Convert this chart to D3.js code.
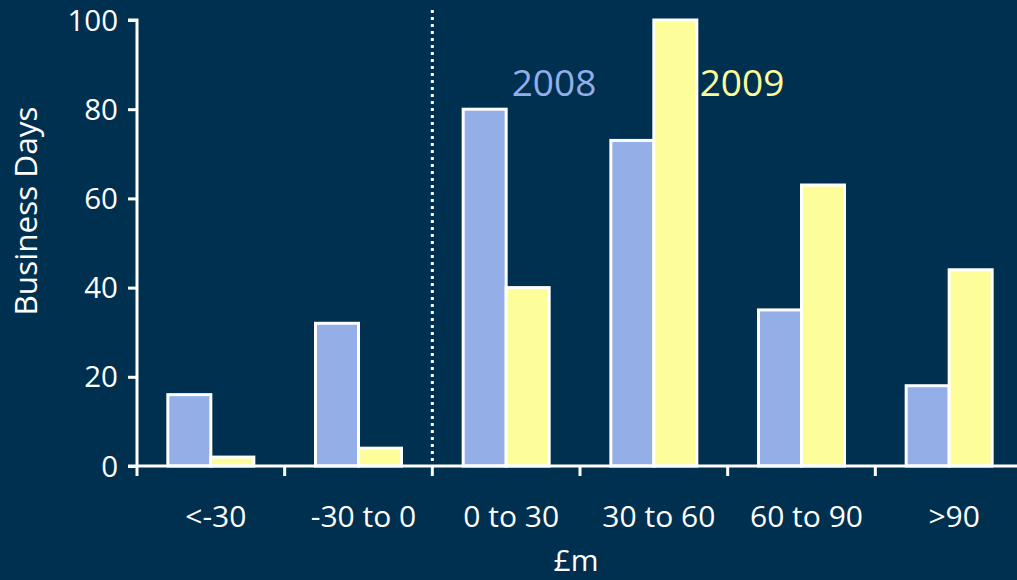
<!DOCTYPE html>
<html>
<head>
<meta charset="utf-8">
<script src="https://cdn.jsdelivr.net/npm/d3@7"></script>
<style>
  html, body { margin: 0; padding: 0; background: #00304f; }
  svg { display: block; }
  text { font-family: "Open Sans", sans-serif; }
</style>
</head>
<body>
<svg id="chart" width="1017" height="580"></svg>
<script>
// Ranges of the daily figure (£m) and the number of business days in each
const categories = ["<-30", "-30 to 0", "0 to 30", "30 to 60", "60 to 90", ">90"];
const seriesNames = ["2008", "2009"];
const values2008 = [16, 32, 80, 73, 35, 18];
const values2009 = [2, 4, 40, 100, 63, 44];
const yTicks = [0, 20, 40, 60, 80, 100];

const colors = { "2008": "#94aee8", "2009": "#fdfd99" };
const bg = "#00304f";

const svg = d3.select("#chart");
svg.append("rect").attr("width", 1017).attr("height", 580).attr("fill", bg);

const x0 = 137, x1 = 1023, y0 = 466, y1 = 20;

const x = d3.scaleBand().domain(categories).range([x0, x1]).paddingInner(0).paddingOuter(0);
const xs = d3.scaleBand().domain(seriesNames).range([0, 86]);
const y = d3.scaleLinear().domain([0, 100]).range([y0, y1]);

const rows = categories.map((c, i) => ({ cat: c, "2008": values2008[i], "2009": values2009[i] }));

// bars
const groups = svg.append("g").selectAll("g").data(rows).join("g")
  .attr("transform", d => `translate(${x(d.cat) + x.bandwidth() / 2 - 43},0)`);
groups.selectAll("rect")
  .data(d => seriesNames.map(s => ({ s, v: d[s] })))
  .join("rect")
  .attr("x", d => xs(d.s))
  .attr("width", xs.bandwidth())
  .attr("y", d => y(d.v))
  .attr("height", d => y0 - y(d.v))
  .attr("fill", d => colors[d.s])
  .attr("stroke", "#ffffff")
  .attr("stroke-width", 3);

// dotted divider between negative and positive ranges
svg.append("line")
  .attr("x1", x("0 to 30")).attr("x2", x("0 to 30"))
  .attr("y1", 10).attr("y2", y0)
  .attr("stroke", "#ffffff").attr("stroke-width", 3)
  .attr("stroke-dasharray", "3,4");

// y axis
const yAxis = svg.append("g").attr("transform", `translate(${x0},0)`)
  .call(d3.axisLeft(y).tickValues(yTicks).tickSize(9).tickPadding(10));
yAxis.select(".domain").attr("stroke", "#fff").attr("stroke-width", 3)
  .attr("d", `M-9,${y1}H0V${y0}`);
yAxis.selectAll(".tick line").attr("stroke", "#fff").attr("stroke-width", 3);
yAxis.selectAll(".tick text").attr("fill", "#fff").attr("font-size", 29.5)
  .attr("font-family", "'Open Sans', sans-serif").attr("dy", "0.34em");

// x axis: ticks at band boundaries
const boundaries = categories.map(c => x(c)).concat([x1]);
const xg = svg.append("g");
xg.append("line").attr("x1", x0 - 9).attr("x2", x1).attr("y1", y0).attr("y2", y0)
  .attr("stroke", "#fff").attr("stroke-width", 3);
xg.selectAll("line.tk").data(boundaries).join("line").attr("class", "tk")
  .attr("x1", d => d).attr("x2", d => d).attr("y1", y0).attr("y2", y0 + 10)
  .attr("stroke", "#fff").attr("stroke-width", 3);
xg.selectAll("text").data(categories).join("text")
  .attr("x", d => x(d) + x.bandwidth() / 2 + 5)
  .attr("y", 527)
  .attr("text-anchor", "middle")
  .attr("fill", "#fff").attr("font-size", 30)
  .text(d => d);

// axis titles
svg.append("text").attr("x", 576).attr("y", 571).attr("text-anchor", "middle")
  .attr("fill", "#fff").attr("font-size", 30).text("£m");
svg.append("text").attr("transform", "translate(37,211) rotate(-90)")
  .attr("text-anchor", "middle").attr("fill", "#fff").attr("font-size", 31.5)
  .text("Business Days");

// series labels
svg.append("text").attr("x", 554).attr("y", 96).attr("text-anchor", "middle")
  .attr("fill", colors["2008"]).attr("font-size", 37).text("2008");
svg.append("text").attr("x", 742).attr("y", 96).attr("text-anchor", "middle")
  .attr("fill", colors["2009"]).attr("font-size", 37).text("2009");
</script>
</body>
</html>
